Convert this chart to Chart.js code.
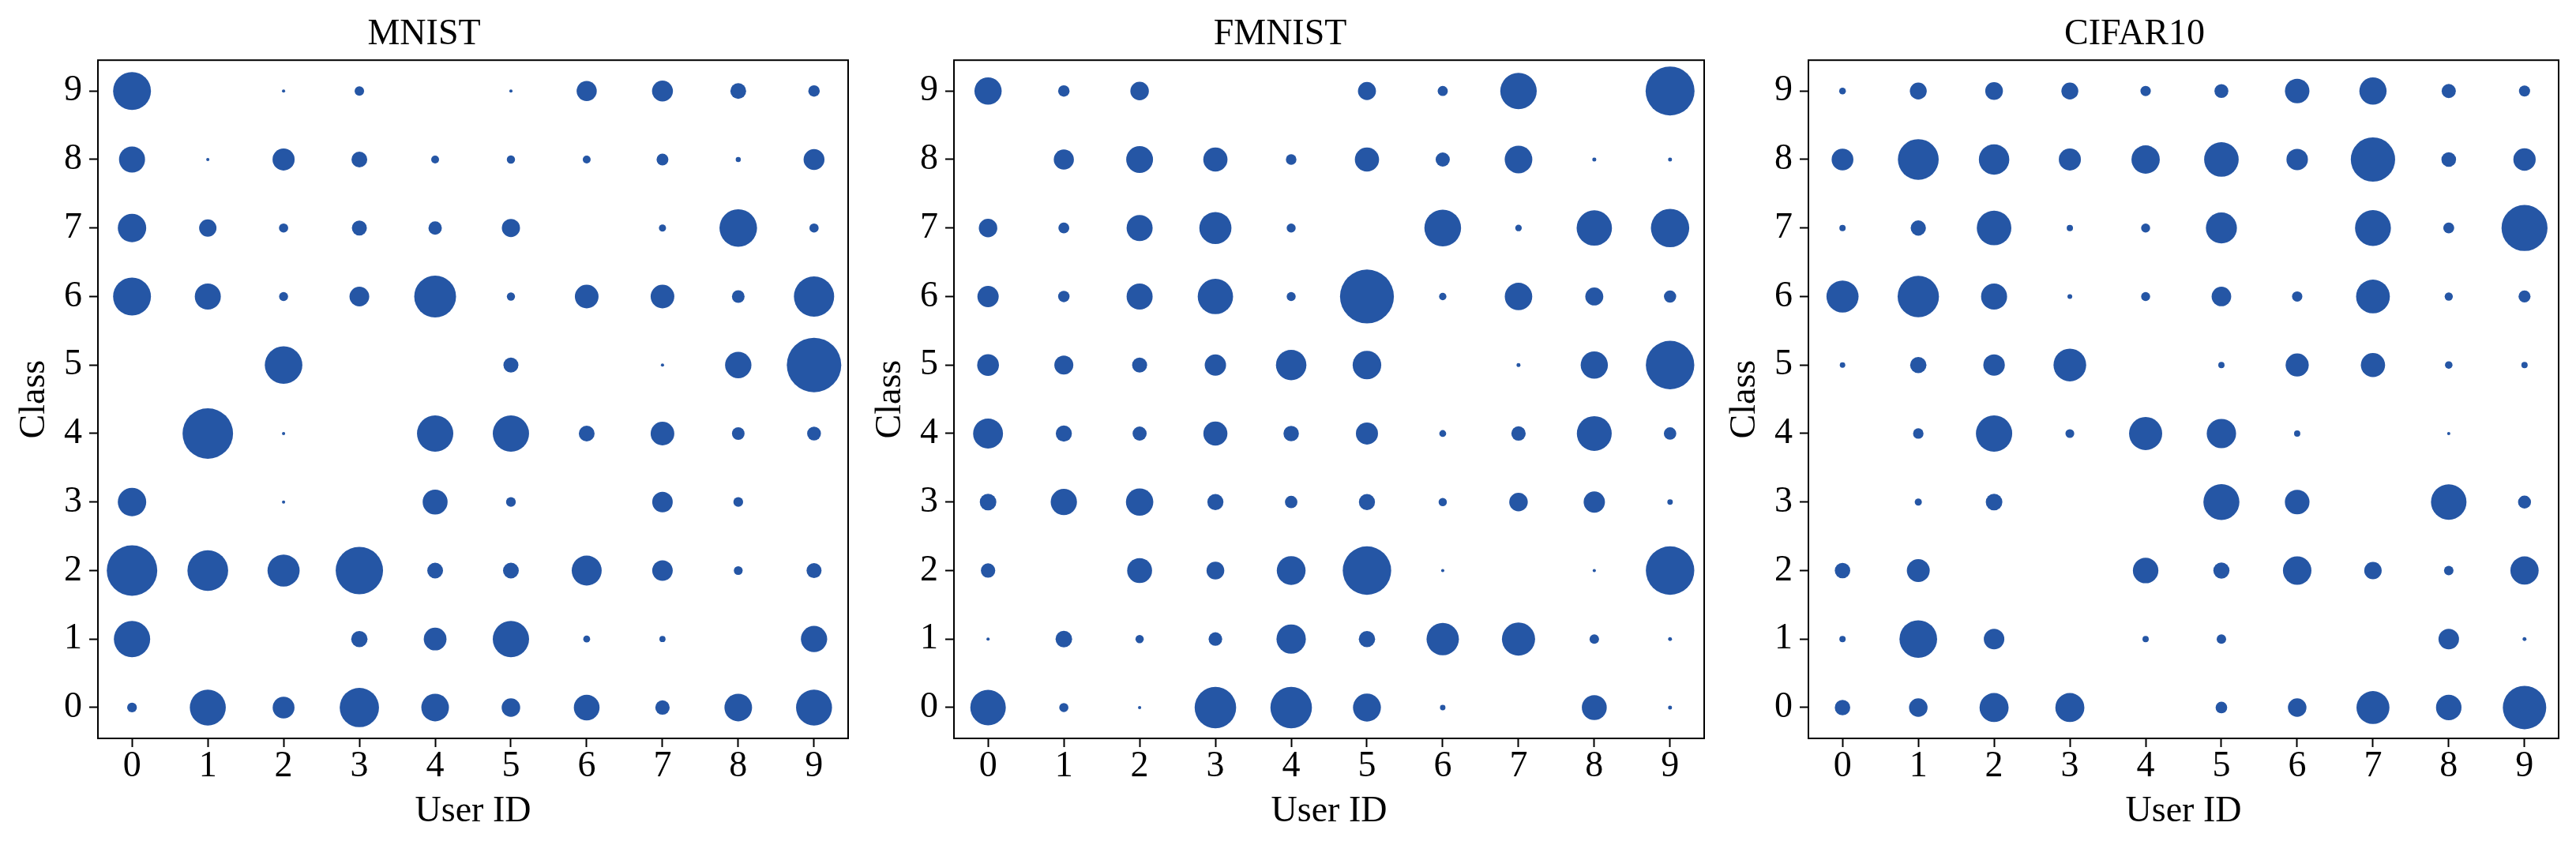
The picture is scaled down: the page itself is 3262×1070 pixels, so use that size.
<!DOCTYPE html>
<html>
<head>
<meta charset="utf-8">
<title>Class distribution per user</title>
<script src="https://cdn.jsdelivr.net/npm/chart.js@4.4.0/dist/chart.umd.min.js"></script>
<style>
  html, body { margin: 0; padding: 0; background: #ffffff; }
  body { width: 3262px; height: 1070px; position: relative; overflow: hidden; }
  canvas { position: absolute; top: 0; }
</style>
</head>
<body>
<canvas id="chart-mnist" width="1084" height="1070" style="left:0px"></canvas>
<canvas id="chart-fmnist" width="1084" height="1070" style="left:1084px"></canvas>
<canvas id="chart-cifar" width="1084" height="1070" style="left:2166px"></canvas>
<script>
// eixos: usuarios (x) e classes (y)
const userIds = [0, 1, 2, 3, 4, 5, 6, 7, 8, 9];
const classIds = [0, 1, 2, 3, 4, 5, 6, 7, 8, 9];
const tickLabels = ['0', '1', '2', '3', '4', '5', '6', '7', '8', '9'];

// amostras por classe (linha = classe 0..9, coluna = usuario 0..9)
const mnistCounts = [
  [91, 1248, 460, 1488, 735, 331, 638, 199, 735, 1248],
  [1270, 0, 0, 257, 498, 1270, 46, 36, 0, 665],
  [2458, 1598, 994, 2160, 240, 240, 866, 406, 75, 217],
  [778, 0, 10, 0, 599, 91, 0, 406, 91, 0],
  [0, 2458, 10, 0, 1270, 1270, 240, 540, 154, 184],
  [0, 0, 1359, 0, 0, 217, 0, 10, 669, 2857],
  [1382, 653, 78, 375, 1685, 64, 540, 540, 154, 1561],
  [778, 290, 82, 217, 173, 317, 0, 49, 1359, 82],
  [653, 10, 470, 240, 60, 66, 60, 135, 25, 421],
  [1382, 0, 10, 86, 0, 10, 390, 421, 240, 126]
];

const fmnistCounts = [
  [1215, 81, 10, 1660, 1660, 752, 29, 0, 599, 15],
  [10, 265, 66, 178, 830, 257, 1009, 1058, 86, 15],
  [199, 0, 599, 304, 799, 2262, 10, 0, 10, 2262],
  [265, 665, 722, 250, 150, 250, 66, 331, 437, 29],
  [862, 250, 192, 558, 230, 470, 46, 199, 1172, 150],
  [457, 346, 217, 437, 894, 786, 0, 15, 714, 2262],
  [437, 126, 653, 1204, 78, 2799, 52, 727, 312, 144],
  [329, 114, 653, 994, 78, 0, 1297, 41, 1204, 1417],
  [0, 390, 694, 566, 108, 566, 194, 735, 15, 15],
  [714, 126, 329, 0, 0, 312, 98, 1281, 0, 2306]
];

const cifarCounts = [
  [230, 331, 813, 813, 0, 130, 331, 1048, 626, 1815],
  [38, 1365, 406, 0, 38, 86, 0, 0, 406, 15],
  [230, 505, 0, 0, 626, 250, 782, 293, 86, 769],
  [0, 49, 265, 0, 0, 1248, 584, 0, 1215, 163],
  [0, 106, 1270, 75, 1058, 830, 38, 0, 10, 0],
  [29, 257, 444, 1028, 0, 38, 515, 566, 54, 38],
  [994, 1647, 653, 22, 78, 369, 103, 1099, 64, 139],
  [38, 224, 1151, 38, 78, 927, 0, 1242, 114, 2039],
  [457, 1604, 894, 470, 773, 1151, 444, 1895, 208, 481],
  [44, 275, 301, 275, 103, 186, 577, 714, 194, 119]
];

const panelTitles = ['MNIST', 'FMNIST', 'CIFAR10'];

const blue = '#2556a5';
const fontFamily = "'Liberation Serif', 'Times New Roman', serif";
const sizeScale = 0.645; // raio em px = sqrt(amostras) * escala

// moldura completa em volta da area do grafico
const frame = {
  id: 'frame',
  afterDatasetsDraw(chart) {
    const { ctx, chartArea: a } = chart;
    ctx.save();
    ctx.strokeStyle = '#000';
    ctx.lineWidth = 2;
    ctx.strokeRect(a.left, a.top, a.right - a.left, a.bottom - a.top);
    ctx.restore();
  }
};

function makeChart(id, title, counts) {
  const points = [];
  classIds.forEach((c) => {
    userIds.forEach((u) => {
      const v = counts[c][u];
      if (v > 0) points.push({ x: u, y: c, r: Math.sqrt(v) * sizeScale });
    });
  });

  const tickFont = { family: fontFamily, size: 46, lineHeight: 1 };
  const titleFont = { family: fontFamily, size: 46, weight: 'normal', lineHeight: 1.2 };

  return new Chart(document.getElementById(id), {
    type: 'bubble',
    data: {
      datasets: [{
        data: points,
        backgroundColor: blue,
        borderColor: blue,
        borderWidth: 0,
        hoverRadius: 0
      }]
    },
    options: {
      responsive: false,
      animation: false,
      devicePixelRatio: 1,
      events: [],
      layout: { autoPadding: false, padding: { left: 0, right: 10, top: 0, bottom: 0 } },
      plugins: {
        legend: { display: false },
        tooltip: { enabled: false },
        title: {
          display: true,
          text: title,
          color: '#000',
          font: titleFont,
          padding: { top: 16, bottom: 5 }
        }
      },
      scales: {
        x: {
          type: 'linear',
          min: -0.45,
          max: 9.45,
          afterBuildTicks: (s) => { s.ticks = userIds.map((v) => ({ value: v })); },
          afterFit: (s) => { s.height = 135; s.paddingLeft = 0; s.paddingRight = 0; },
          ticks: {
            callback: (v) => tickLabels[v],
            font: tickFont,
            color: '#000',
            padding: 2,
            maxRotation: 0,
            autoSkip: false
          },
          grid: { drawOnChartArea: false, drawTicks: true, tickLength: 11, tickWidth: 2, tickColor: '#000' },
          border: { display: false },
          title: {
            display: true,
            text: 'User ID',
            color: '#000',
            font: titleFont,
            padding: { top: 14, bottom: 14 }
          }
        },
        y: {
          type: 'linear',
          min: -0.45,
          max: 9.45,
          afterBuildTicks: (s) => { s.ticks = classIds.map((v) => ({ value: v })); },
          afterFit: (s) => { s.width = 124; s.paddingTop = 0; s.paddingBottom = 0; },
          ticks: {
            callback: (v) => tickLabels[v],
            font: tickFont,
            color: '#000',
            padding: 9,
            autoSkip: false
          },
          grid: { drawOnChartArea: false, drawTicks: true, tickLength: 11, tickWidth: 2, tickColor: '#000' },
          border: { display: false },
          title: {
            display: true,
            text: 'Class',
            color: '#000',
            font: titleFont,
            padding: { top: 16, bottom: 16 }
          }
        }
      }
    },
    plugins: [frame]
  });
}

makeChart('chart-mnist', panelTitles[0], mnistCounts);
makeChart('chart-fmnist', panelTitles[1], fmnistCounts);
makeChart('chart-cifar', panelTitles[2], cifarCounts);
</script>
</body>
</html>
